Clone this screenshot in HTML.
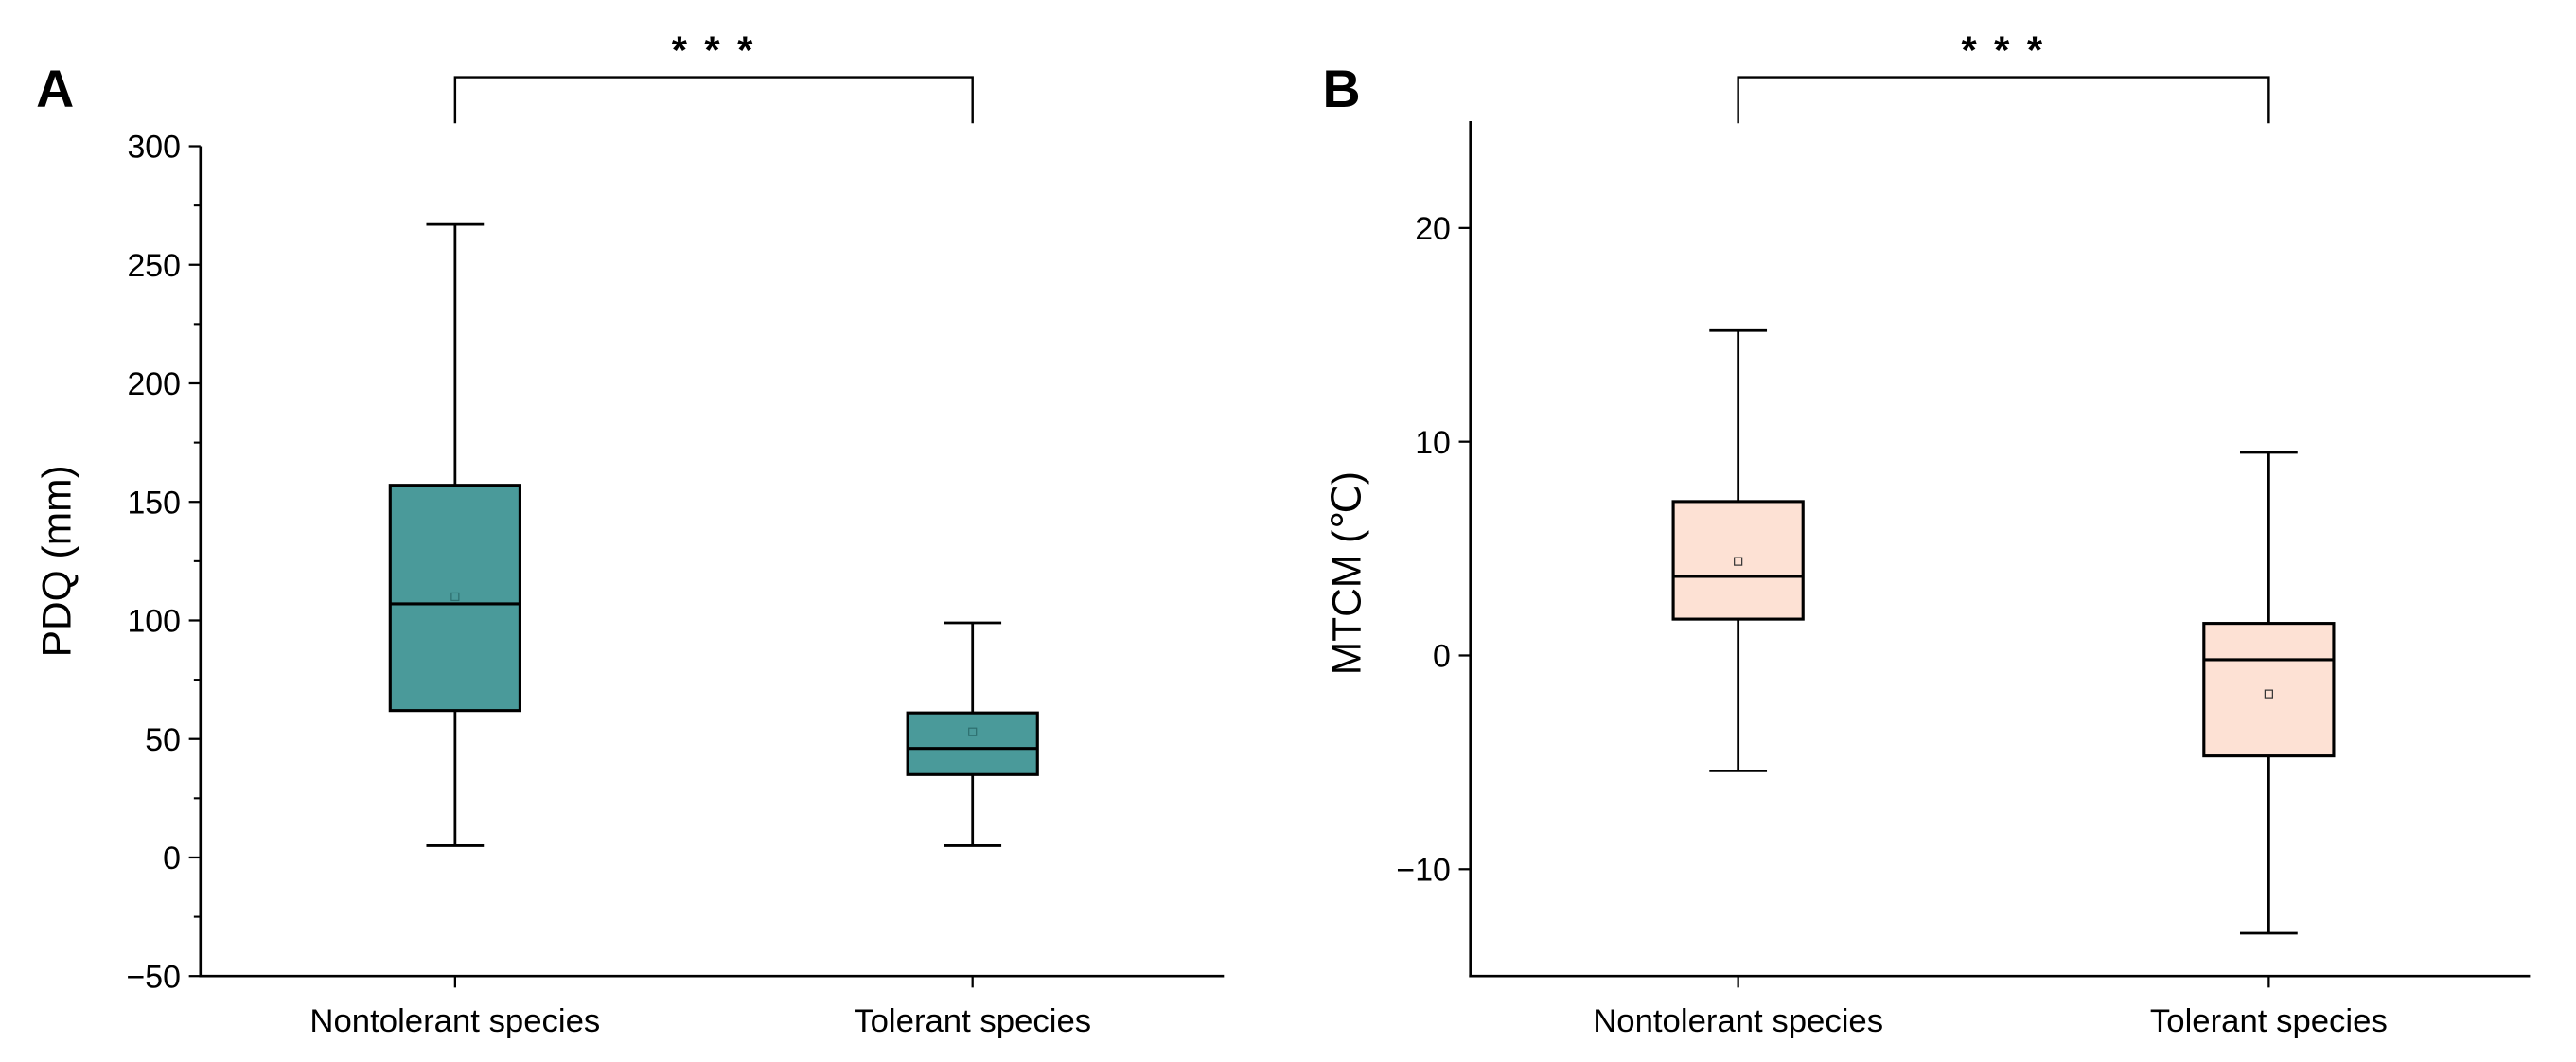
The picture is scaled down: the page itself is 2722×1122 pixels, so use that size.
<!DOCTYPE html>
<html><head><meta charset="utf-8"><style>
html,body{margin:0;padding:0;background:#fff;}
svg{display:block;font-family:"Liberation Sans",Arial,sans-serif;}
</style></head><body>
<svg id="fig" width="2722" height="1122" viewBox="0 0 1568 646.3" preserveAspectRatio="none"></svg>
<script>
// Panel A data (PDQ, mm)
const catsA = ["Nontolerant species","Tolerant species"];
const whiskerHighA = [267, 99];
const q3A = [157, 61];
const medianA = [107, 46];
const q1A = [62, 35];
const whiskerLowA = [5, 5];
const meanA = [110, 53];
const ticksA = [-50, 0, 50, 100, 150, 200, 250, 300];
// Panel B data (MTCM, °C)
const catsB = ["Nontolerant species","Tolerant species"];
const whiskerHighB = [15.2, 9.5];
const q3B = [7.2, 1.5];
const medianB = [3.7, -0.2];
const q1B = [1.7, -4.7];
const whiskerLowB = [-5.4, -13];
const meanB = [4.4, -1.8];
const ticksB = [-10, 0, 10, 20];

const NS="http://www.w3.org/2000/svg";
const svg=document.getElementById('fig');
function el(tag,attrs,parent){const e=document.createElementNS(NS,tag);for(const k in attrs)e.setAttribute(k,attrs[k]);(parent||svg).appendChild(e);return e;}
function line(x1,y1,x2,y2,w,p){return el('line',{x1,y1,x2,y2,stroke:'#000','stroke-width':w||1.5},p);}

function panel(cfg){
  const g=el('g',{});
  
  
  const y=v=>cfg.y0+(v-cfg.vmin)*(cfg.y1-cfg.y0)/(cfg.vmax-cfg.vmin);
  const x=i=>cfg.cx[i];
  const ya=line(cfg.ax,y(cfg.vmax),cfg.ax,cfg.y0+0.75,1.5,g);
  
  
  const xa=line(cfg.ax-0.75,cfg.y0,cfg.axEnd,cfg.y0,1.5,g);
  
  
  cfg.ticks.forEach(t=>{
    line(cfg.ax-7,y(t),cfg.ax,y(t),1.3,g);
    const tx=el('text',{x:cfg.ax-12,y:y(t)+7,'text-anchor':'end','font-size':19.5},g);
    tx.textContent=t<0?'\u2212'+Math.abs(t):String(t);
    
    
  });
  if(cfg.minor){cfg.minor.forEach(t=>line(cfg.ax-4,y(t),cfg.ax,y(t),1.2,g));}
  const yt=el('text',{x:0,y:0,'text-anchor':'middle','font-size':24.5,transform:`translate(${cfg.titleX},${(cfg.y0+y(cfg.vmax))/2+(cfg.titleDy||0)}) rotate(-90)`},g);
  yt.textContent=cfg.title;
  
  
  cfg.cats.forEach((c,i)=>{
    line(x(i),cfg.y0,x(i),cfg.y0+7,1.3,g);
    const t=el('text',{x:x(i),y:cfg.y0+34,'text-anchor':'middle','font-size':20},g);
    t.textContent=c;
    
    
  });
  const bw=79, cw=35;
  cfg.cats.forEach((c,i)=>{
    const bg=el('g',{},g);
    
    
    line(x(i),y(cfg.hi[i]),x(i),y(cfg.q3[i]),1.6,bg);
    line(x(i),y(cfg.q1[i]),x(i),y(cfg.lo[i]),1.6,bg);
    line(x(i)-cw/2,y(cfg.hi[i]),x(i)+cw/2,y(cfg.hi[i]),1.6,bg);
    line(x(i)-cw/2,y(cfg.lo[i]),x(i)+cw/2,y(cfg.lo[i]),1.6,bg);
    el('rect',{x:x(i)-bw/2,y:y(cfg.q3[i]),width:bw,height:y(cfg.q1[i])-y(cfg.q3[i]),fill:cfg.fill,stroke:'#000','stroke-width':1.8},bg);
    line(x(i)-bw/2,y(cfg.med[i]),x(i)+bw/2,y(cfg.med[i]),1.8,bg);
    el('rect',{x:x(i)-2.3,y:y(cfg.mean[i])-2.3,width:4.6,height:4.6,fill:'none',stroke:cfg.meanStroke,'stroke-width':0.7},bg);
  });
  const br=el('path',{d:`M${x(0)},75 V47 H${x(1)} V75`,fill:'none',stroke:'#000','stroke-width':1.4},g);
  
  
  const st=el('text',{x:(x(0)+x(1))/2,y:39,'text-anchor':'middle','font-size':24,'font-weight':'bold','letter-spacing':'2'},g);
  st.textContent='* * *';
  
  
  const pl=el('text',{x:cfg.labelX,y:65,'font-size':32,'font-weight':'bold'},g);
  pl.textContent=cfg.label;
  
  
}
const minorA=[];for(let v=-25;v<300;v+=50)minorA.push(v);
panel({name:'panel-a',vmin:-50,vmax:300,y0:594,y1:89,ax:122,axEnd:745,cx:[277,592],ticks:ticksA,minor:minorA,
  cats:catsA,hi:whiskerHighA,q3:q3A,med:medianA,q1:q1A,lo:whiskerLowA,mean:meanA,fill:'#4a9a9a',meanStroke:'#2d6e6e',
  title:'PDQ (mm)',titleX:43,label:'A',labelX:22});
panel({name:'panel-b',vmin:-15,vmax:25,y0:594,y1:73.7,ax:895,axEnd:1540,cx:[1058,1381],ticks:ticksB,
  cats:catsB,hi:whiskerHighB,q3:q3B,med:medianB,q1:q1B,lo:whiskerLowB,mean:meanB,fill:'#fde1d4',meanStroke:'#333',
  title:'MTCM (\u2103)',titleX:828,titleDy:15,label:'B',labelX:805});
</script>
</body></html>
